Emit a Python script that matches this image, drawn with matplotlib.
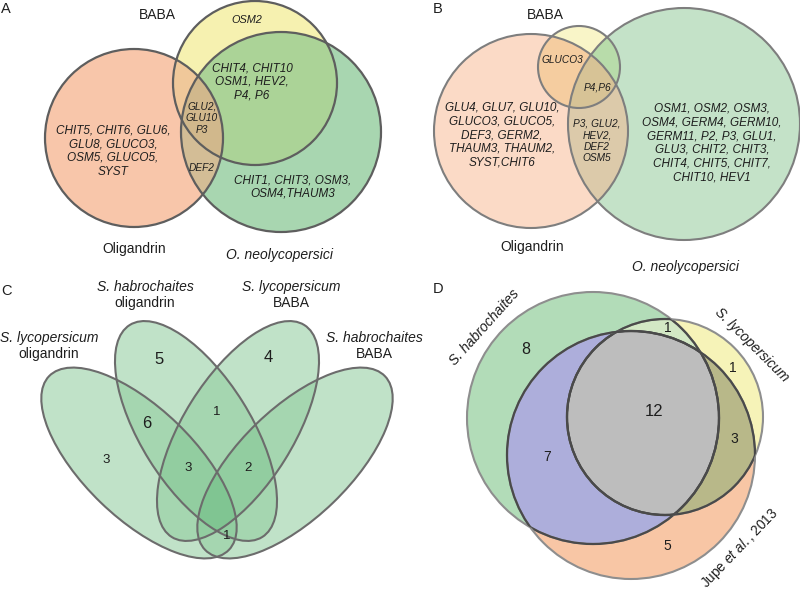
import numpy as np
import matplotlib.pyplot as plt
from matplotlib.patches import Ellipse
from matplotlib.colors import to_rgb

plt.rcParams['font.family'] = ['Liberation Sans', 'DejaVu Sans']
plt.rcParams['mathtext.fontset'] = 'custom'
plt.rcParams['mathtext.rm'] = 'Liberation Sans'
plt.rcParams['mathtext.it'] = 'Liberation Sans:italic'

# ---- data ----
# panel A: gene lists per region (Oligandrin, BABA, O. neolycopersici)
a_sets = ['Oligandrin', 'BABA', 'O. neolycopersici']
a_genes = ['OSM2',
           'CHIT4, CHIT10\nOSM1, HEV2,\nP4, P6',
           'GLU2,\nGLU10\nP3',
           'DEF2',
           'CHIT5, CHIT6, GLU6,\nGLU8, GLUCO3,\nOSM5, GLUCO5,\nSYST',
           'CHIT1, CHIT3, OSM3,\nOSM4,THAUM3']

# panel B
b_sets = ['Oligandrin', 'BABA', 'O. neolycopersici']
b_genes = ['GLUCO3',
           'P4,P6',
           'P3, GLU2,\nHEV2,\nDEF2\nOSM5',
           'GLU4, GLU7, GLU10,\nGLUCO3, GLUCO5,\nDEF3, GERM2,\nTHAUM3, THAUM2,\nSYST,CHIT6',
           'OSM1, OSM2, OSM3,\nOSM4, GERM4, GERM10,\nGERM11, P2, P3, GLU1,\nGLU3, CHIT2, CHIT3,\nCHIT4, CHIT5, CHIT7,\nCHIT10, HEV1']

# panel C: counts per region
c_sets = [('S. lycopersicum', 'oligandrin'), ('S. habrochaites', 'oligandrin'),
          ('S. lycopersicum', 'BABA'), ('S. habrochaites', 'BABA')]
c_counts = [5, 4, 6, 1, 3, 3, 2, 1]

# panel D: counts per region
d_counts = [8, 1, 1, 12, 3, 7, 5]

# ---- layout (pixels) ----
W, H = 800, 591
a_shapes = [(134, 138, 89, 89, 0), (255, 83, 82, 82, 0), (281, 132, 100, 100, 0)]
a_cols = {'100': '#f8c6aa', '010': '#f6f2b0', '001': '#a8d6b0',
          '110': '#f0c89b', '011': '#abd497', '101': '#d4be96', '111': '#d2b98c'}
a_pos = [(247, 20, 7.8), (252, 82, 8.5), (202, 118, 7.3), (202, 168, 7.3),
         (113, 151, 8.5), (293, 187, 8.5)]

b_shapes = [(531, 131, 97, 97, 0), (579, 67, 41, 41, 0), (684, 124, 116, 116, 0)]
b_cols = {'100': '#fbdac6', '010': '#f9f5c8', '001': '#c4e3c9',
          '110': '#f5cda0', '011': '#b9dcaa', '101': '#dccaaa', '111': '#d7c396'}
b_pos = [(562, 60, 7.3), (598, 87, 7.3), (597, 141, 7.3), (502, 135, 8.5),
         (712, 143, 8.5)]

c_shapes = [(139, 463, 125, 55, 44), (196, 431, 125, 55, 58),
            (238, 431, 125, 55, -58), (295, 463, 125, 55, -44)]
c_fill = ['#c0e2c8', '#a6d6b1', '#92cda0', '#80c592']
c_lab_pos = [(49, 338), (145, 287), (291, 287), (374, 338)]
c_pos = [(159, 359, 12), (268, 358, 12), (147, 423, 12), (217, 412, 9.5),
         (106, 460, 9.5), (188, 468, 9.5), (248, 468, 9.5), (227, 536, 9.5)]

d_shapes = [(593, 418, 126, 126, 0), (665, 417, 98, 98, 0), (631, 455, 124, 124, 0)]
d_cols = {'100': '#b2dcb9', '010': '#f6f3b8', '001': '#f8c6a6',
          '110': '#d4e9c5', '011': '#b9b98a', '101': '#adaedb', '111': '#bdbdbd'}
d_pos = [(526, 349, 11.5), (668, 328, 10), (733, 368, 10), (654, 411, 12),
         (734, 439, 10), (547, 457, 10), (667, 546, 10)]

# ---- fills from region masks ----
S = 2
X, Y = np.meshgrid((np.arange(W * S) + 0.5) / S, (np.arange(H * S) + 0.5) / S)
img = np.ones((H * S, W * S, 3))


def inside(shape):
    cx, cy, a, b, ang = shape
    t = np.deg2rad(ang)
    dx, dy = X - cx, Y - cy
    u = dx * np.cos(t) + dy * np.sin(t)
    v = -dx * np.sin(t) + dy * np.cos(t)
    return (u / a) ** 2 + (v / b) ** 2 <= 1


def paint(shapes, cols):
    ms = [inside(s) for s in shapes]
    for key, col in cols.items():
        m = np.ones(X.shape, bool)
        for mk, k in zip(ms, key):
            m &= mk if k == '1' else ~mk
        img[m] = to_rgb(col)


paint(a_shapes, a_cols)
paint(b_shapes, b_cols)
keys = [format(i, '04b') for i in range(1, 16)]
paint(c_shapes, {k: c_fill[k.count('1') - 1] for k in keys})
paint(d_shapes, d_cols)

fig = plt.figure(figsize=(8, 5.91), dpi=100)
ax = fig.add_axes([0, 0, 1, 1])
ax.imshow(img, extent=(0, W, H, 0), interpolation='antialiased', zorder=0)
ax.set_xlim(0, W)
ax.set_ylim(H, 0)
ax.axis('off')


def outline(shape, color, lw=1.5, clip=None):
    cx, cy, a, b, ang = shape
    e = Ellipse((cx, cy), 2 * a, 2 * b, angle=ang, fill=False,
                edgecolor=color, lw=lw, zorder=2)
    ax.add_patch(e)
    if clip is not None:
        cx, cy, a, b, ang = clip
        cp = Ellipse((cx, cy), 2 * a, 2 * b, angle=ang, transform=ax.transData)
        e.set_clip_path(cp)


for s in a_shapes:
    outline(s, '#5e5e5e', 1.6)
for s in b_shapes:
    outline(s, '#7e7e7e', 1.5)
for s in c_shapes:
    outline(s, '#6c6c6c', 1.5)
for i, s in enumerate(d_shapes):
    outline(s, '#8e8e8e', 1.5)
    for j, o in enumerate(d_shapes):
        if j != i:
            outline(s, '#4a4a4a', 1.6, clip=o)

tc = '#1e1e1e'
# panel letters
for letter, (x, y) in zip('ABCD', [(6, 9), (438, 9), (6, 291), (438, 289)]):
    ax.text(x, y, letter, fontsize=10.5, ha='center', va='center', color=tc)

# A
ax.text(157, 15, a_sets[1], fontsize=10, ha='center', va='center', color=tc)
ax.text(134, 249, a_sets[0], fontsize=10, ha='center', va='center', color=tc)
ax.text(280, 255, a_sets[2], fontsize=10, ha='center', va='center', style='italic', color=tc)
for s, (x, y, fs) in zip(a_genes, a_pos):
    ax.text(x, y, s, fontsize=fs, ha='center', va='center', style='italic',
            color=tc, linespacing=1.2)

# B
ax.text(545, 15, b_sets[1], fontsize=10, ha='center', va='center', color=tc)
ax.text(532, 247, b_sets[0], fontsize=10, ha='center', va='center', color=tc)
ax.text(685, 267, b_sets[2], fontsize=10, ha='center', va='center', style='italic', color=tc)
for s, (x, y, fs) in zip(b_genes, b_pos):
    ax.text(x, y, s, fontsize=fs, ha='center', va='center', style='italic',
            color=tc, linespacing=1.2)

# C
for (sp, trt), (x, y) in zip(c_sets, c_lab_pos):
    ax.text(x, y, sp, fontsize=10, ha='center', va='center', style='italic', color=tc)
    ax.text(x, y + 16, trt, fontsize=10, ha='center', va='center', color=tc)
for n, (x, y, fs) in zip(c_counts, c_pos):
    ax.text(x, y, str(n), fontsize=fs, ha='center', va='center', color=tc)

# D
for n, (x, y, fs) in zip(d_counts, d_pos):
    ax.text(x, y, str(n), fontsize=fs, ha='center', va='center', color=tc)
ax.text(484, 327, 'S. habrochaites', fontsize=10, style='italic', rotation=48,
        ha='center', va='center', rotation_mode='anchor', color=tc)
ax.text(752, 345, 'S. lycopersicum', fontsize=10, style='italic', rotation=-45,
        ha='center', va='center', rotation_mode='anchor', color=tc)
ax.text(740, 548, r'Jupe $\it{et\ al.}$, 2013', fontsize=9.8, rotation=46,
        ha='center', va='center', rotation_mode='anchor', color=tc)

fig.savefig('out.png', dpi=100)
